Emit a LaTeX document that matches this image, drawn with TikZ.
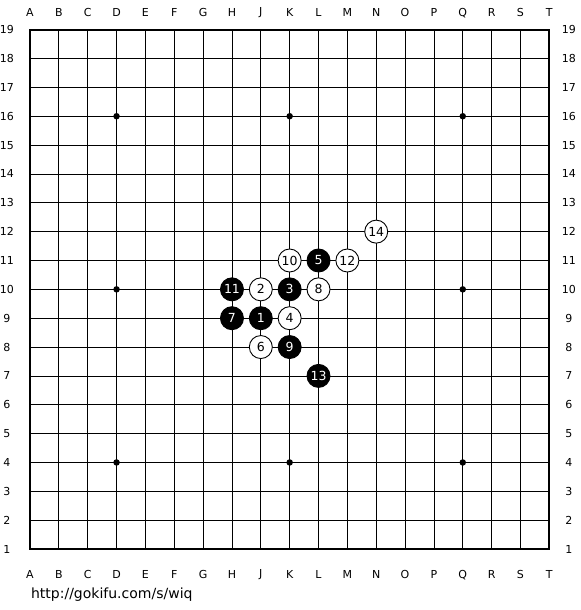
\documentclass[tikz,border=0pt]{standalone}
\usepackage{fontspec}
\setmainfont{DejaVu Sans}
\usepackage{tikz}

\begin{document}
\begin{tikzpicture}[x=28.85pt,y=28.85pt]
\tikzset{stone/.style = {shape=circle,draw,line width=0.9pt,minimum size=23pt,inner sep=0pt,font=\fontsize{12.5}{12.5}\selectfont}}
\tikzset{black/.style = {stone,fill=black,text=white}}
\tikzset{white/.style = {stone,fill=white,text=black}}
\tikzset{hoshi/.style = {shape=circle,fill=black,inner sep=0pt,minimum size=6.5pt}}
\tikzset{coordlabel/.style = {inner sep=0pt,font=\fontsize{11}{11}\selectfont}}
\useasboundingbox (-1.04,-2.114) rectangle (19.064,19.029);

%grid
\foreach \i in {1,...,17} {
  \draw[line width=0.8pt] (\i,0) -- (\i,18);
  \draw[line width=0.8pt] (0,\i) -- (18,\i);
}
\draw[line width=2pt] (0,0) rectangle (18,18);

%labels
\foreach \c [count=\i from 0] in {A,B,C,D,E,F,G,H,J,K,L,M,N,O,P,Q,R,S,T} {
  \node[coordlabel] (top\c) at (\i,18.58) {\c};
  \node[coordlabel] (bottom\c) at (\i,-0.9) {\c};
}
\foreach \r in {1,...,19} {
  \node[coordlabel] (left\r) at (-0.8,\r-1) {\r};
  \node[coordlabel] (right\r) at (18.68,\r-1) {\r};
}

%star points
\foreach \x in {3,9,15}
  \foreach \y in {3,9,15}
    \node[hoshi] (hoshi\x\y) at (\x,\y) {};

%stones
\foreach \n/\x/\y/\col in {1/8/8/black, 2/8/9/white, 3/9/9/black, 4/9/8/white,
    5/10/10/black, 6/8/7/white, 7/7/8/black, 8/10/9/white, 9/9/7/black,
    10/9/10/white, 11/7/9/black, 12/11/10/white, 13/10/6/black, 14/12/11/white}
  \node[\col] (move\n) at (\x,\y) {\n};

\node[anchor=base west,inner sep=0pt,font=\fontsize{14}{14}\selectfont] (url) at (0.03,-1.73) {http://gokifu.com/s/wiq};
\end{tikzpicture}
\end{document}
